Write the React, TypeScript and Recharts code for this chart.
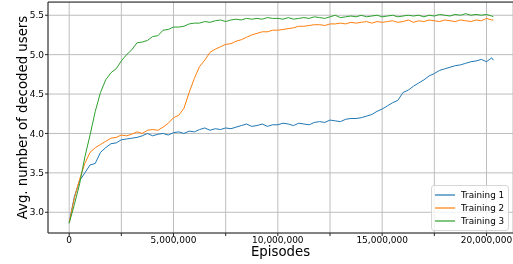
import { CartesianGrid, Legend, Line, LineChart, ReferenceLine, XAxis, YAxis } from "recharts";

const FONT = "'DejaVu Sans', sans-serif";

// episodes, in millions
const EPISODES_M = [
  0, 0.25, 0.5, 0.75, 1, 1.25, 1.5, 1.75, 2, 2.25,
  2.5, 2.75, 3, 3.25, 3.5, 3.75, 4, 4.25, 4.5, 4.75,
  5, 5.25, 5.5, 5.75, 6, 6.25, 6.5, 6.75, 7, 7.25,
  7.5, 7.75, 8, 8.25, 8.5, 8.75, 9, 9.25, 9.5, 9.75,
  10, 10.25, 10.5, 10.75, 11, 11.25, 11.5, 11.75, 12, 12.25,
  12.5, 12.75, 13, 13.25, 13.5, 13.75, 14, 14.25, 14.5, 14.75,
  15, 15.25, 15.5, 15.75, 16, 16.25, 16.5, 16.75, 17, 17.25,
  17.5, 17.75, 18, 18.25, 18.5, 18.75, 19, 19.25, 19.5, 19.75,
  20, 20.25, 20.33,
];

const TRAINING_1 = [
  2.87, 3.2, 3.4, 3.5, 3.6, 3.62, 3.76, 3.82, 3.87, 3.88,
  3.92, 3.93, 3.94, 3.95, 3.97, 4.0, 3.97, 3.99, 4.0, 3.98,
  4.01, 4.02, 4.0, 4.03, 4.02, 4.05, 4.07, 4.04, 4.06, 4.05,
  4.07, 4.06, 4.08, 4.1, 4.12, 4.09, 4.1, 4.12, 4.09, 4.11,
  4.11, 4.13, 4.12, 4.1, 4.13, 4.12, 4.11, 4.14, 4.15, 4.14,
  4.17, 4.16, 4.15, 4.18, 4.19, 4.19, 4.2, 4.22, 4.24, 4.28,
  4.31, 4.35, 4.39, 4.42, 4.52, 4.55, 4.6, 4.64, 4.68, 4.73,
  4.76, 4.8, 4.82, 4.84, 4.86, 4.87, 4.89, 4.91, 4.92, 4.94,
  4.91, 4.96, 4.93,
];

const TRAINING_2 = [
  2.87, 3.18, 3.42, 3.62, 3.76, 3.82, 3.86, 3.9, 3.94, 3.95,
  3.98, 3.97, 3.99, 4.02, 4.0, 4.04, 4.05, 4.04, 4.08, 4.13,
  4.2, 4.23, 4.32, 4.52, 4.7, 4.85, 4.93, 5.03, 5.07, 5.1,
  5.13, 5.14, 5.17, 5.19, 5.22, 5.25, 5.27, 5.29, 5.29, 5.31,
  5.31, 5.32, 5.33, 5.34, 5.36, 5.36, 5.37, 5.38, 5.38, 5.37,
  5.39, 5.39, 5.4, 5.39, 5.41, 5.4, 5.41, 5.42, 5.4, 5.42,
  5.41, 5.42, 5.43, 5.41, 5.42, 5.44, 5.41, 5.43, 5.42, 5.44,
  5.43, 5.42, 5.44, 5.43, 5.42, 5.44, 5.43, 5.42, 5.44, 5.43,
  5.46, 5.44, 5.44,
];

const TRAINING_3 = [
  2.86, 3.1, 3.36, 3.7, 3.98, 4.28, 4.52, 4.68, 4.77, 4.82,
  4.92, 5.0, 5.06, 5.15, 5.16, 5.18, 5.23, 5.24, 5.31, 5.32,
  5.35, 5.35, 5.36, 5.39, 5.4, 5.4, 5.42, 5.41, 5.43, 5.44,
  5.42, 5.44, 5.45, 5.44, 5.46, 5.45, 5.46, 5.45, 5.47, 5.46,
  5.46, 5.45, 5.47, 5.45, 5.46, 5.47, 5.46, 5.48, 5.47, 5.46,
  5.48, 5.5, 5.47, 5.48, 5.49, 5.48, 5.5, 5.48, 5.49, 5.5,
  5.48, 5.49, 5.5, 5.48, 5.49, 5.5, 5.49, 5.5, 5.48, 5.5,
  5.49, 5.51, 5.5, 5.49, 5.51, 5.5, 5.52, 5.5, 5.51, 5.5,
  5.51, 5.49, 5.48,
];

const X_TICKS = [0, 2500000, 5000000, 7500000, 10000000, 12500000, 15000000, 17500000, 20000000];
const Y_TICKS = [3.0, 3.5, 4.0, 4.5, 5.0, 5.5];
const X_DOMAIN = [-1015000, 21270000];
const Y_DOMAIN = [2.737, 5.668];

const SERIES = [
  { key: "t1", name: "Training 1", color: "#1f77b4" },
  { key: "t2", name: "Training 2", color: "#ff7f0e" },
  { key: "t3", name: "Training 3", color: "#2ca02c" },
];

const data = EPISODES_M.map((m, i) => ({
  episode: Math.round(m * 1000000),
  t1: TRAINING_1[i],
  t2: TRAINING_2[i],
  t3: TRAINING_3[i],
}));

const fmtX = (v: number) => (v % 5000000 === 0 ? v.toLocaleString("en-US") : "");

const renderYLabel = () => (
  <text transform="translate(27, 117.5) rotate(-90)" textAnchor="middle" fontSize={13.3} fontFamily={FONT} fill="#000">
    Avg. number of decoded users
  </text>
);

const renderXLabel = () => (
  <text x={280.5} y={256} textAnchor="middle" fontSize={13.3} fontFamily={FONT} fill="#000">
    Episodes
  </text>
);

const renderLegend = (props: any) => (
  <div style={{
    border: "1px solid #d6d6d6", borderRadius: 3, background: "rgba(255,255,255,0.8)",
    padding: "2px 4px 2px 2px", fontFamily: FONT, fontSize: 8.8, color: "#000",
  }}>
    {(props.payload || []).map((entry: any) => (
      <div key={entry.value} style={{ display: "flex", alignItems: "center", height: 13.3 }}>
        <svg width={22} height={4}>
          <line x1={1} x2={21} y1={2} y2={2} stroke={entry.color} strokeWidth={1.2}/>
        </svg>
        <span style={{ marginLeft: 5, whiteSpace: "nowrap" }}>{entry.value}</span>
      </div>
    ))}
  </div>
);

const App = () => (
  <div style={{ position: "fixed", left: 0, top: 0 }}>
    <LineChart width={ 513 } height={ 264 } data={ data } margin={ { top: 2, right: 0, bottom: 0, left: 0 } }>
      <CartesianGrid stroke="#bdbdbd" strokeWidth={ 1 }/>
      <XAxis
        dataKey="episode" type="number" domain={ X_DOMAIN } ticks={ X_TICKS } interval={ 0 }
        tickFormatter={ fmtX } height={ 31 } tickSize={ 3 } tickMargin={ 1 }
        stroke="#262626" tick={ { fontSize: 9, fill: "#000", fontFamily: FONT } }
        label={ renderXLabel }
      />
      <YAxis
        type="number" domain={ Y_DOMAIN } ticks={ Y_TICKS } interval={ 0 } width={ 48 }
        tickFormatter={ (v: number) => v.toFixed(1) } tickSize={ 3 } tickMargin={ 1 }
        stroke="#262626" tick={ { fontSize: 9, fill: "#000", fontFamily: FONT } }
        label={ renderYLabel }
      />
      <ReferenceLine y={ 5.667 } stroke="#262626" strokeWidth={ 1 }/>
      { SERIES.map(s => (
        <Line
          key={ s.key } dataKey={ s.key } name={ s.name } stroke={ s.color } strokeWidth={ 1 }
          dot={ false } activeDot={ false } isAnimationActive={ false } type="linear"
        />
      )) }
      <Legend
        layout="vertical" align="center" verticalAlign="middle" content={ renderLegend }
        wrapperStyle={ { left: 431, top: 185, width: "auto" } }
      />
    </LineChart>
  </div>
);

export default App;
